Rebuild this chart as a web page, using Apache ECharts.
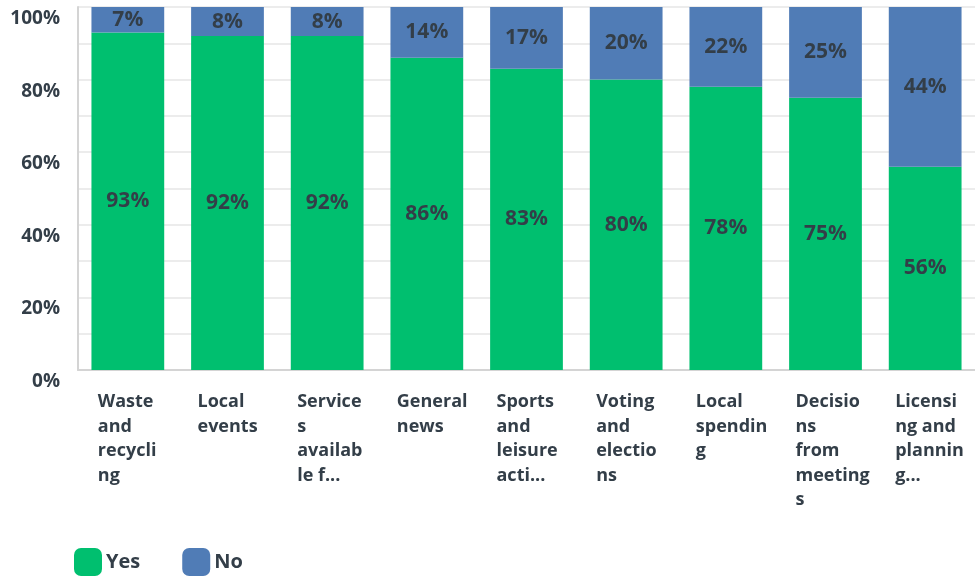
<!DOCTYPE html>
<html>
<head>
<meta charset="utf-8">
<script src="https://cdn.jsdelivr.net/npm/echarts@6/dist/echarts.min.js"></script>
<style>
  html, body { margin: 0; padding: 0; background: #fff; }
  #chart { width: 975px; height: 578px; }
</style>
</head>
<body>
<div id="chart"></div>
<script>
// Topics, wrapped as they appear under each column
const categories = [
  'Waste\nand\nrecycli\nng',
  'Local\nevents',
  'Service\ns\navailab\nle f...',
  'General\nnews',
  'Sports\nand\nleisure\nacti...',
  'Voting\nand\nelectio\nns',
  'Local\nspendin\ng',
  'Decisio\nns\nfrom\nmeeting\ns',
  'Licensi\nng and\nplannin\ng...'
];
const yesValues = [93, 92, 92, 86, 83, 80, 78, 75, 56];
const noValues = [7, 8, 8, 14, 17, 20, 22, 25, 44];
const yTickLabels = ['0%', '20%', '40%', '60%', '80%', '100%'];

const textDark = '#333e48';
const labelFont = 'Open Sans';

const segmentLabel = {
  show: true,
  position: 'inside',
  formatter: p => p.value + '%',
  color: textDark,
  fontFamily: labelFont,
  fontWeight: 'bold',
  fontSize: 21,
  textBorderWidth: 0,
  textShadowColor: '#ffffff',
  textShadowOffsetX: 1,
  textShadowOffsetY: 1,
  textShadowBlur: 0
};

const chart = echarts.init(document.getElementById('chart'), null, { renderer: 'canvas' });
chart.setOption({
  animation: false,
  backgroundColor: '#ffffff',
  grid: { left: 78, top: 7, width: 902, bottom: 208 },
  legend: {
    left: 69,
    top: 543,
    itemWidth: 28,
    itemHeight: 28,
    itemGap: 42,
    icon: 'roundRect',
    textStyle: { color: textDark, fontFamily: labelFont, fontWeight: 'bold', fontSize: 20, padding: [0, 0, 0, -1] },
    data: ['Yes', 'No']
  },
  xAxis: {
    type: 'category',
    data: categories,
    axisLine: { show: true, lineStyle: { color: '#d4d4d4', width: 2 } },
    axisTick: { show: false },
    axisLabel: {
      interval: 0,
      align: 'left',
      padding: [0, 0, 0, -30],
      margin: 20,
      color: textDark,
      fontFamily: labelFont,
      fontWeight: 'bold',
      fontSize: 18,
      lineHeight: 24.5
    }
  },
  yAxis: {
    type: 'value',
    min: 0,
    max: 100,
    interval: 10,
    axisLine: { show: true, lineStyle: { color: '#d4d4d4', width: 2 } },
    axisTick: { show: false },
    splitLine: { show: true, lineStyle: { color: '#ececec', width: 2 } },
    axisLabel: {
      margin: 18,
      verticalAlign: 'top',
      padding: [2, 0, 0, 0],
      color: textDark,
      fontFamily: labelFont,
      fontWeight: 'bold',
      fontSize: 19,
      formatter: v => (v % 20 === 0 ? yTickLabels[v / 20] : '')
    }
  },
  series: [
    {
      name: 'Yes',
      type: 'bar',
      stack: 'answers',
      data: yesValues,
      barCategoryGap: '27%',
      itemStyle: { color: '#00bf6f' },
      label: segmentLabel
    },
    {
      name: 'No',
      type: 'bar',
      stack: 'answers',
      data: noValues,
      barCategoryGap: '27%',
      itemStyle: { color: '#507cb6' },
      label: segmentLabel
    }
  ]
});
</script>
</body>
</html>
